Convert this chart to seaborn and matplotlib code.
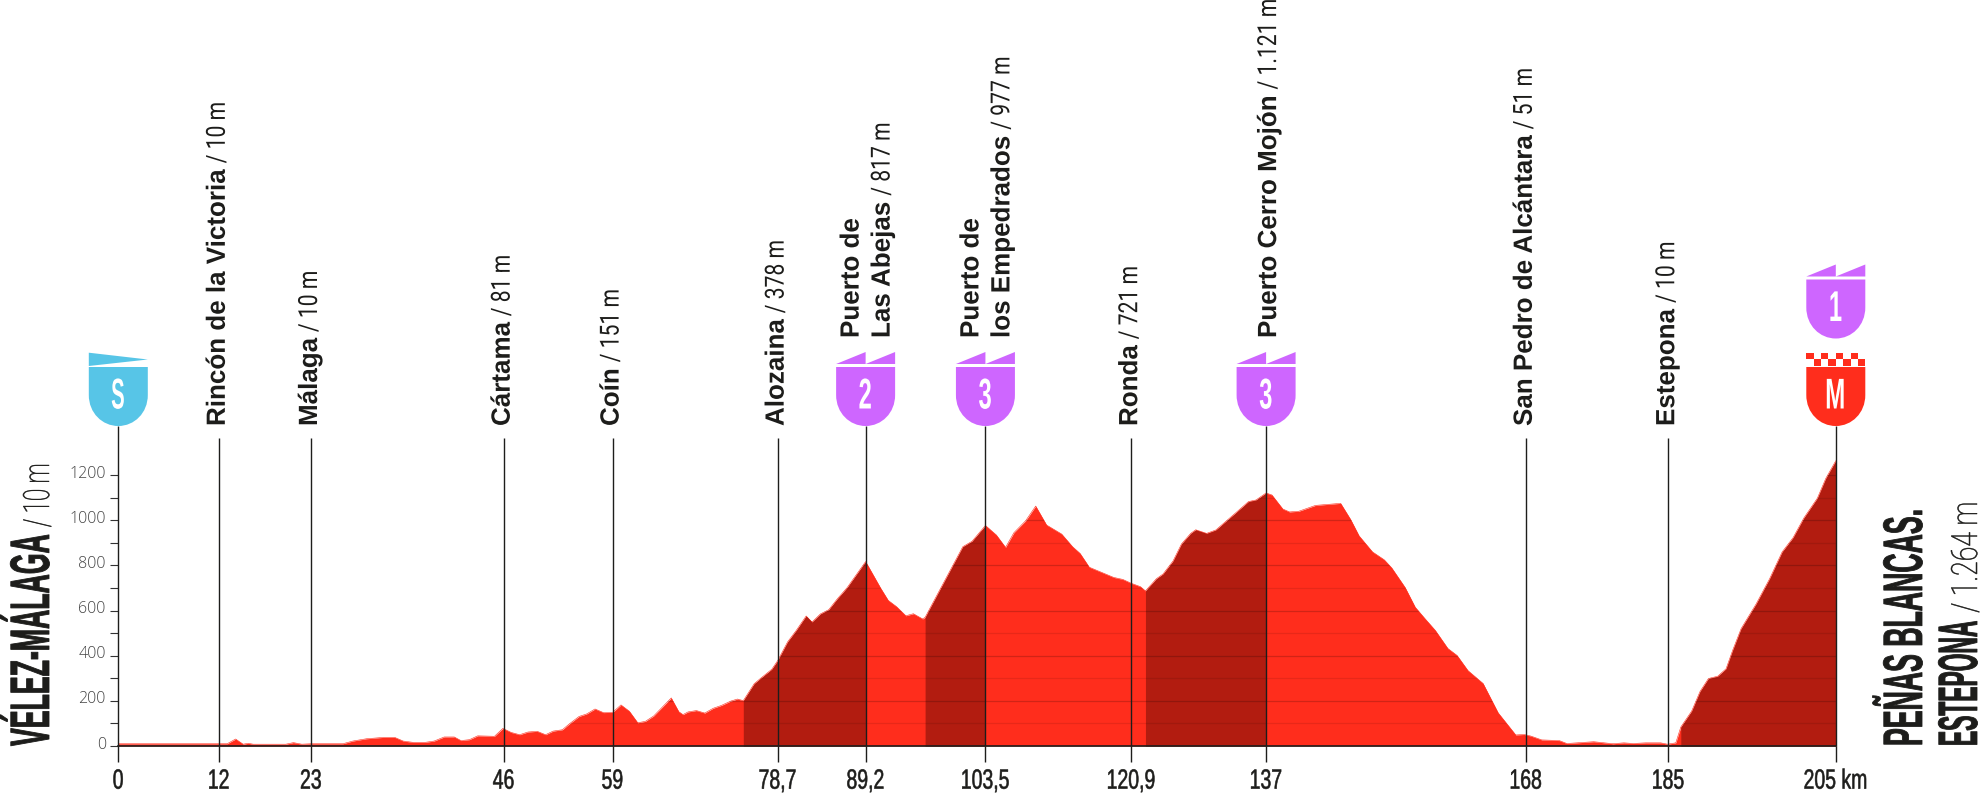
import matplotlib
matplotlib.use('Agg')
import matplotlib.pyplot as plt
import numpy as np
import pandas as pd
import seaborn as sns
from matplotlib.patches import PathPatch, Polygon, Rectangle
from matplotlib.path import Path
from matplotlib.patheffects import AbstractPathEffect
from matplotlib.transforms import Affine2D, ScaledTranslation

# profile: km, metres
km = [0, 12, 13, 14, 14.9, 15.5, 16.1, 20, 20.9, 21.9, 23, 26.8, 28, 29.6, 31.6, 33, 34, 35.2, 36.6, 37.7,
      38.9, 40.1, 40.9, 41.9, 42.9, 44.9, 45.9, 46.9, 47.9, 48.9, 50, 51, 51.9, 53, 53.8, 55, 55.9, 56.9,
      57.9, 59, 60, 61, 62, 62.9, 63.9, 64.9, 66, 66.9, 67.4, 68, 69, 70, 71, 72, 73.1, 73.9, 74.6, 75.9,
      76.7, 78, 78.7, 79.9, 80.9, 82.1, 82.8, 83.8, 84.8, 85.8, 87, 89.2, 91, 91.9, 92.9, 94, 94.9, 96,
      96.3, 100.8, 101.9, 103.5, 104.8, 105.9, 106.9, 108.3, 109.5, 110.8, 112.6, 113.9, 114.8, 115.9,
      118.8, 119.9, 120.9, 122, 122.6, 123.9, 124.7, 125.9, 126.9, 128, 128.6, 129.9, 131, 133.4, 134.9,
      135.8, 137, 137.7, 139, 139.8, 140.9, 142.9, 145.9, 147.1, 148.1, 149.7, 151.1, 152, 153.6, 154.8,
      155.9, 157.2, 158.7, 159.8, 161.1, 162.9, 164.7, 166.8, 167.8, 168.6, 169.9, 172, 172.9, 176.1,
      178.4, 179.7, 180.8, 182.3, 184.1, 184.9, 185.9, 186.5, 187.8, 188.8, 189.8, 190.9, 191.9, 192.7,
      193.7, 195.5, 197.1, 198.6, 199.9, 201.2, 202.8, 203.8, 205]
elevation = [10, 10, 10, 31, 8, 12, 8, 8, 15, 8, 10, 10, 22, 32, 38, 38, 22, 16, 16, 22,
             40, 40, 24, 28, 45, 43, 78, 60, 50, 62, 65, 50, 66, 72, 97, 131, 142, 164,
             148, 149, 182, 154, 103, 109, 133, 171, 213, 152, 139, 151, 157, 146, 167, 180, 199, 208, 201, 276,
             301, 340, 378, 462, 511, 576, 549, 585, 604, 651, 702, 817, 699, 645, 617, 577, 586, 563,
             570, 883, 907, 977, 935, 880, 945, 998, 1063, 979, 939, 883, 853, 792,
             747, 738, 721, 706, 687, 741, 762, 820, 895, 942, 958, 942, 957, 1034, 1083,
             1090, 1121, 1112, 1050, 1037, 1040, 1066, 1075, 1003, 931, 860, 825, 789, 702, 615,
             567, 512, 432, 401, 334, 277, 147, 49, 51, 44, 27, 24, 11, 19,
             10, 14, 11, 14, 14, 8, 14, 84, 155, 242, 299, 309, 342, 425,
             520, 630, 741, 860, 923, 1011, 1098, 1185, 1264]

climb_start = [74.6, 96.3, 122.6, 186.5]
climb_end = [89.2, 103.5, 137, 205]

tick_km = [0, 12, 23, 46, 59, 78.7, 89.2, 103.5, 120.9, 137, 168, 185, 205]
tick_labels = ['0', '12', '23', '46', '59', '78,7', '89,2', '103,5', '120,9', '137', '168', '185', '205 km']

place_km = [12, 23, 46, 59, 78.7, 89.2, 103.5, 120.9, 137, 168, 185]
place_names = ['Rincón de la Victoria', 'Málaga', 'Cártama', 'Coín', 'Alozaina', 'Puerto de\nLas Abejas',
               'Puerto de\nlos Empedrados', 'Ronda', 'Puerto Cerro Mojón', 'San Pedro de Alcántara', 'Estepona']
place_heights = ['10 m', '10 m', '81 m', '151 m', '378 m', '817 m', '977 m', '721 m', '1.121 m', '51 m', '10 m']

badge_km = [89.2, 103.5, 137]
badge_text = ['2', '3', '3']

RED = '#FF2D1C'
DARK_RED = '#B21C10'
PURPLE = '#CE66FF'
BLUE = '#57C5E7'
INK = '#1D1D1B'
NAME_FONT = ['Liberation Sans', 'DejaVu Sans']
LIGHT_FONT = ['Roboto', 'Liberation Sans']
TITLE_FONT = ['Liberation Sans Narrow', 'Liberation Sans']


class Condensed(AbstractPathEffect):
    # squeeze glyphs along the text direction, the poster font is very narrow
    def __init__(self, sx, centre=False, stroke=0):
        self.sx = sx
        self.centre = centre
        self.stroke = stroke

    def draw_path(self, renderer, gc, tpath, affine, rgbFace=None):
        xs = tpath.vertices[:, 0]
        c = (xs.min() + xs.max()) / 2 if self.centre and len(xs) else 0
        squeeze = Affine2D().translate(-c, 0).scale(self.sx, 1).translate(c, 0)
        gc0 = renderer.new_gc()
        gc0.copy_properties(gc)
        if self.stroke:
            gc0.set_linewidth(self.stroke)
            gc0.set_foreground(rgbFace)
        renderer.draw_path(gc0, tpath, squeeze + affine, rgbFace)
        gc0.restore()


sns.set_theme(style='white')
plt.rcParams['font.family'] = NAME_FONT

W, H = 1981, 794
fig = plt.figure(figsize=(W / 100, H / 100), dpi=100, facecolor='white')
ax = fig.add_axes([118.3 / W, (H - 746) / H, 1717.5 / W, 316 / H])
ax.set_facecolor('none')

df = pd.DataFrame({'km': km, 'elevation': elevation})
fill = ax.fill_between(df['km'], df['elevation'], 0, color=RED, lw=0, zorder=1)
sns.lineplot(data=df, x='km', y='elevation', color=RED, lw=0.4, errorbar=None, ax=ax, zorder=1)
for a, b in zip(climb_start, climb_end):
    part = df[(df['km'] >= a) & (df['km'] <= b)]
    ax.fill_between(part['km'], part['elevation'], 0, color=DARK_RED, lw=0, zorder=2)

# elevation lines only show inside the profile
clip = fill.get_paths()[0]
for level in range(100, 1300, 100):
    line = ax.axhline(level, color='black', alpha=0.18 if level % 200 == 0 else 0.09, lw=0.9, zorder=3)
    line.set_clip_path(clip, ax.transData)

ax.set_xlim(0, 205)
ax.set_ylim(0, 1400)
ax.set_xlabel('')
ax.set_ylabel('')

sns.despine(ax=ax, left=True)
ax.spines['bottom'].set_color(INK)
ax.spines['bottom'].set_linewidth(1.2)
ax.spines['bottom'].set_zorder(5)

ax.set_yticks(range(0, 1400, 200))
ax.set_yticks(range(100, 1300, 200), minor=True)
ax.tick_params(axis='y', which='both', left=True, length=6, width=0.8, color='#333333', pad=3)
ax.tick_params(axis='y', labelsize=11.5, labelcolor='#444444')
raise_label = ScaledTranslation(0, 2.5 / 72, fig.dpi_scale_trans)
for lab in ax.get_yticklabels():
    lab.set_fontfamily(['Open Sans', 'Liberation Sans'])
    lab.set_fontweight('light')
    lab.set_transform(lab.get_transform() + raise_label)

ax.set_xticks(tick_km)
ax.set_xticklabels(tick_labels)
ax.tick_params(axis='x', bottom=True, length=11.3, width=1, color=INK, pad=5,
               labelsize=20, labelcolor=INK)
for lab in ax.get_xticklabels():
    lab.set_fontfamily(TITLE_FONT)
    lab.set_path_effects([Condensed(0.7, centre=True, stroke=0.4)])

# vertical marker lines
has_badge = [k in badge_km for k in place_km]
for k, tall in zip(place_km, has_badge):
    ax.vlines(k, 0, 1418 if tall else 1365, color=INK, lw=1, clip_on=False, zorder=6)
ax.vlines([0, 205], 0, 1418, color=INK, lw=1, clip_on=False, zorder=6)

# pixel overlay for the badges and rotated texts
over = fig.add_axes([0, 0, 1, 1], facecolor='none')
over.set_xlim(0, W)
over.set_ylim(H, 0)
over.axis('off')


def px(k):
    return ax.transData.transform((k, 0))[0]


def badge_body(cx, colour, bottom=426):
    top, bend, hw = bottom - 59, bottom - 31, 29.5
    verts = [(cx - hw, top), (cx + hw, top), (cx + hw, bend),
             (cx + hw, bottom - 13), (cx + 16, bottom), (cx, bottom),
             (cx - 16, bottom), (cx - hw, bottom - 13), (cx - hw, bend), (cx - hw, top)]
    codes = [Path.MOVETO, Path.LINETO, Path.LINETO, Path.CURVE4, Path.CURVE4, Path.CURVE4,
             Path.CURVE4, Path.CURVE4, Path.CURVE4, Path.CLOSEPOLY]
    over.add_patch(PathPatch(Path(verts, codes), fc=colour, ec='none', lw=0))


def badge_letter(cx, text, bottom=426, sx=0.55):
    over.text(cx, bottom - 33, text, color='white', fontsize=31, fontweight='bold', ha='center',
              va='center_baseline', family=NAME_FONT, path_effects=[Condensed(sx, centre=True)])


def mountain_badge(cx, text, bottom=426):
    badge_body(cx, PURPLE, bottom)
    over.add_patch(Polygon([(cx - 29.5, bottom - 62), (cx, bottom - 74), (cx, bottom - 62),
                            (cx + 29.5, bottom - 74), (cx + 29.5, bottom - 62)], fc=PURPLE, ec='none'))
    badge_letter(cx, text, bottom)


def upright(x, y, text, size, font, weight='normal', sx=1.0, stroke=0):
    return over.text(x, y, text, rotation=90, rotation_mode='anchor', ha='left', va='baseline',
                     fontsize=size, family=font, fontweight=weight, color=INK,
                     path_effects=[Condensed(sx, stroke=stroke)])


def length_of(t, sx):
    bb = t.get_window_extent(fig.canvas.get_renderer())
    return bb.height * sx


for k, text in zip(badge_km, badge_text):
    mountain_badge(px(k), text)

# start
cx = px(0)
badge_body(cx, BLUE)
over.add_patch(Polygon([(cx - 29.5, 352.7), (cx + 29.5, 359.5), (cx - 29.5, 366)], fc=BLUE, ec='none'))
badge_letter(cx, 'S', sx=0.47)

# finish with the climb badge stacked on top
cx = px(205)
mountain_badge(cx, '1', bottom=338.5)
badge_body(cx, RED)
badge_letter(cx, 'M', sx=0.56)
cell = 59 / 8
for row, y in enumerate([352.5, 359]):
    for col in range(8):
        if (col + row) % 2 == 0:
            over.add_patch(Rectangle((cx - 29.5 + col * cell, y), cell, 6.5, fc=RED, ec='none'))

# place names
for k, name, height, tall in zip(place_km, place_names, place_heights, has_badge):
    cx = px(k)
    lines = name.split('\n')
    start = 338 if tall else 426
    if len(lines) == 2:
        upright(cx - 7, start, lines[0], 19, NAME_FONT, 'bold', 0.985)
        base = cx + 24
    else:
        base = cx + 10 if tall else cx + 6
    t = upright(base, start, lines[-1], 19, NAME_FONT, 'bold', 0.985)
    upright(base, start - length_of(t, 0.985) - 6, '/ ' + height, 19, LIGHT_FONT, 'normal', 0.8)

# start and finish titles
t = upright(49, 746, 'VÉLEZ-MÁLAGA', 40, TITLE_FONT, 'bold', 0.48, stroke=0.6)
upright(49, 746 - length_of(t, 0.48) - 7, '/ 10 m', 26, LIGHT_FONT, 'light', 0.62, stroke=0.4)
upright(1922, 746, 'PEÑAS BLANCAS.', 40, TITLE_FONT, 'bold', 0.48, stroke=0.6)
t = upright(1977, 746, 'ESTEPONA', 40, TITLE_FONT, 'bold', 0.41, stroke=0.6)
upright(1977, 746 - length_of(t, 0.41) - 8, '/ 1.264 m', 26, LIGHT_FONT, 'light', 0.74, stroke=0.4)

fig.savefig('out.png', dpi=100)
